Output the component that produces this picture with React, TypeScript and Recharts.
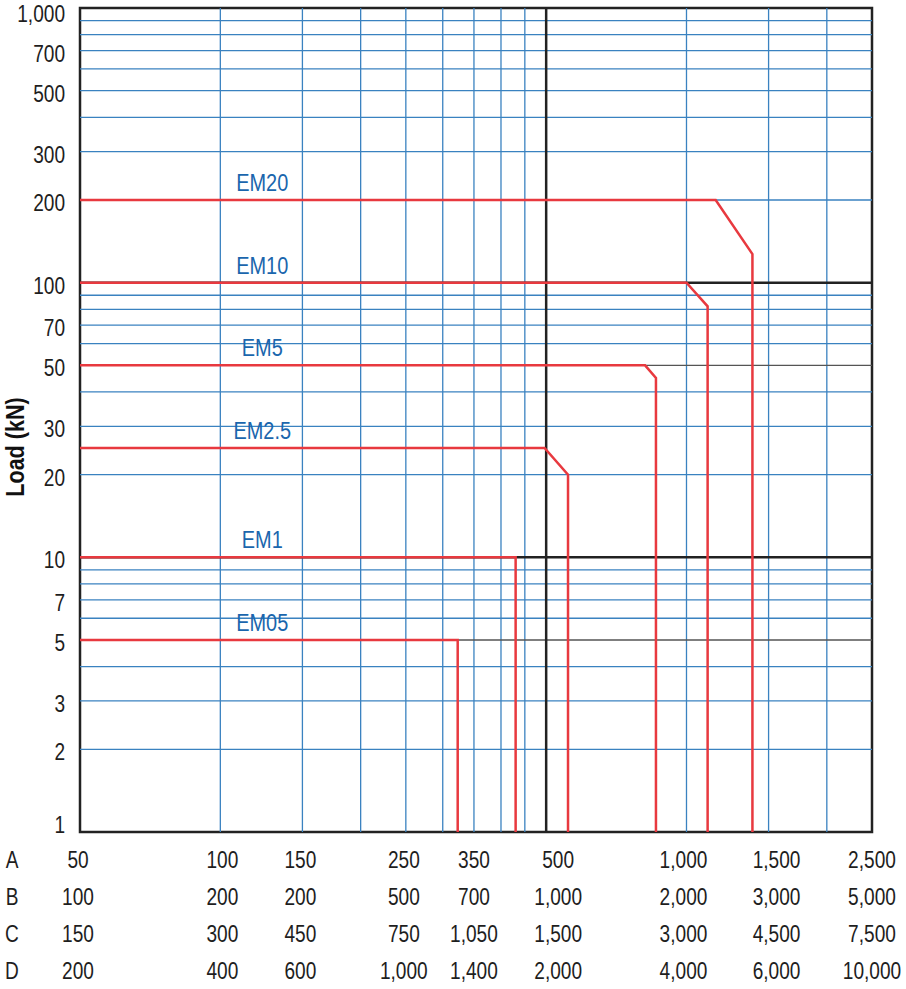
import React from 'react';
import { ComposedChart, Line, XAxis, YAxis, ReferenceLine, ReferenceArea, ReferenceDot } from 'recharts';

// x values are read on row A; rows B-D are alternative scales for the same ticks
const ROW_NAMES = ['A', 'B', 'C', 'D'];
const X_TICKS_A = [50, 100, 150, 250, 350, 500, 1000, 1500, 2500];
const X_LABELS_B = [100, 200, 200, 500, 700, 1000, 2000, 3000, 5000];
const X_LABELS_C = [150, 300, 450, 750, 1050, 1500, 3000, 4500, 7500];
const X_LABELS_D = [200, 400, 600, 1000, 1400, 2000, 4000, 6000, 10000];
const Y_TICKS = [1, 2, 3, 5, 7, 10, 20, 30, 50, 70, 100, 200, 300, 500, 700, 1000];

const X_GRID_BLUE = [100, 150, 200, 250, 300, 350, 400, 450, 1000, 1500, 2000];
const X_GRID_BLACK = [500];
const Y_GRID_BLUE = [2, 3, 4, 6, 7, 8, 9, 20, 30, 40, 60, 70, 80, 90, 200, 300, 400, 500, 600, 700, 800, 900];
const Y_GRID_GRAY = [5, 50];
const Y_GRID_BLACK = [10, 100];

const EM05 = [{ x: 50, y: 5 }, { x: 323, y: 5 }, { x: 323, y: 1 }];
const EM1 = [{ x: 50, y: 10 }, { x: 430, y: 10 }, { x: 430, y: 1 }];
const EM2_5 = [{ x: 50, y: 25 }, { x: 496, y: 25 }, { x: 557, y: 20 }, { x: 557, y: 1 }];
const EM5 = [{ x: 50, y: 50 }, { x: 815, y: 50 }, { x: 860, y: 45 }, { x: 860, y: 1 }];
const EM10 = [{ x: 50, y: 100 }, { x: 1000, y: 100 }, { x: 1110, y: 82 }, { x: 1110, y: 1 }];
const EM20 = [{ x: 50, y: 200 }, { x: 1155, y: 200 }, { x: 1385, y: 127 }, { x: 1385, y: 1 }];

const SERIES = [EM05, EM1, EM2_5, EM5, EM10, EM20];
const SERIES_NAMES = ['EM05', 'EM1', 'EM2.5', 'EM5', 'EM10', 'EM20'];
const SERIES_LEVELS = [5, 10, 25, 50, 100, 200];
const LABEL_AT = 123;

const FONT = "'Liberation Sans', Arial, sans-serif";
const NARROW = 0.83; // condensed look of the original typeface
const TEXT = '#1e1e1e';
const BLUE = '#3a82c0';
const RED = '#e8393f';
const LABEL_BLUE = '#1a66ad';
const ROW_BASELINES = [36, 73, 110, 147];
const X_LABEL_NUDGE = [-2, 2, -2, -2, 0, 12, -3, 8, 0];

const fmt = (v: number) => v.toLocaleString('en-US');

const Narrow = ({ x, y, anchor, size, fill, weight, children }: any) => (
  <g transform={`translate(${x},${y}) scale(${NARROW},1)`}>
    <text x={0} y={0} textAnchor={anchor} fill={fill} fontSize={size} fontWeight={weight} fontFamily={FONT}>
      {children}
    </text>
  </g>
);

const XTick = (props: any) => {
  const { x, y, payload } = props;
  const i = X_TICKS_A.indexOf(payload.value);
  const rows = [X_TICKS_A[i], X_LABELS_B[i], X_LABELS_C[i], X_LABELS_D[i]];
  return (
    <g>
      {rows.map((v, r) => (
        <Narrow key={r} x={x + X_LABEL_NUDGE[i]} y={y + ROW_BASELINES[r]} anchor="middle" size={23} fill={TEXT}>
          {fmt(v)}
        </Narrow>
      ))}
      {i === 0 &&
        ROW_NAMES.map((n, r) => (
          <Narrow key={n} x={12} y={y + ROW_BASELINES[r]} anchor="middle" size={23} fill={TEXT}>
            {n}
          </Narrow>
        ))}
    </g>
  );
};

const YTick = (props: any) => {
  const { x, y, payload } = props;
  const dy = payload.value === 1 ? 1 : payload.value === 1000 ? 14 : 11;
  return (
    <Narrow x={x} y={y + dy} anchor="end" size={23} fill={TEXT}>
      {fmt(payload.value)}
    </Narrow>
  );
};

export default function App() {
  return (
    <div style={{ position: 'absolute', left: 0, top: 0, background: '#fff' }}>
      <ComposedChart width={906} height={989} margin={{ top: 8, right: 34, bottom: 0, left: 0 }}>
        <XAxis
          dataKey="x"
          type="number"
          scale="log"
          domain={[50, 2500]}
          ticks={X_TICKS_A}
          interval={0}
          height={157}
          tickSize={0}
          tickMargin={0}
          axisLine={false}
          tickLine={false}
          tick={<XTick />}
          allowDataOverflow
        />
        <YAxis
          type="number"
          scale="log"
          domain={[1, 1000]}
          ticks={Y_TICKS}
          interval={0}
          width={80}
          tickSize={0}
          tickMargin={15}
          axisLine={false}
          tickLine={false}
          tick={<YTick />}
          allowDataOverflow
          label={{
            content: () => (
              <g transform="translate(24,447) rotate(-90)">
                <Narrow x={0} y={0} anchor="middle" size={26} weight="bold" fill="#111">
                  Load (kN)
                </Narrow>
              </g>
            ),
          }}
        />
        {Y_GRID_BLUE.map((v) => (
          <ReferenceLine key={`hb${v}`} y={v} stroke={BLUE} strokeWidth={1.3} />
        ))}
        {X_GRID_BLUE.map((v) => (
          <ReferenceLine key={`vb${v}`} x={v} stroke={BLUE} strokeWidth={1.3} />
        ))}
        {Y_GRID_GRAY.map((v) => (
          <ReferenceLine key={`hg${v}`} y={v} stroke="#555" strokeWidth={1.3} />
        ))}
        {Y_GRID_BLACK.map((v) => (
          <ReferenceLine key={`hk${v}`} y={v} stroke="#222" strokeWidth={2.5} />
        ))}
        {X_GRID_BLACK.map((v) => (
          <ReferenceLine key={`vk${v}`} x={v} stroke="#222" strokeWidth={2.5} />
        ))}
        {SERIES.map((d, i) => (
          <Line
            key={SERIES_NAMES[i]}
            data={d}
            dataKey="y"
            type="linear"
            stroke={RED}
            strokeWidth={2.5}
            dot={false}
            activeDot={false}
            isAnimationActive={false}
          />
        ))}
        {SERIES_NAMES.map((n, i) => (
          <ReferenceDot
            key={`l${n}`}
            x={LABEL_AT}
            y={SERIES_LEVELS[i]}
            r={0}
            fill="none"
            stroke="none"
            label={(p: any) => (
              <Narrow x={p.viewBox.x} y={p.viewBox.y - 9} anchor="middle" size={24} fill={LABEL_BLUE}>
                {n}
              </Narrow>
            )}
          />
        ))}
        <ReferenceArea x1={50} x2={2500} y1={1} y2={1000} fill="none" stroke="#222" strokeWidth={2.5} />
      </ComposedChart>
    </div>
  );
}
